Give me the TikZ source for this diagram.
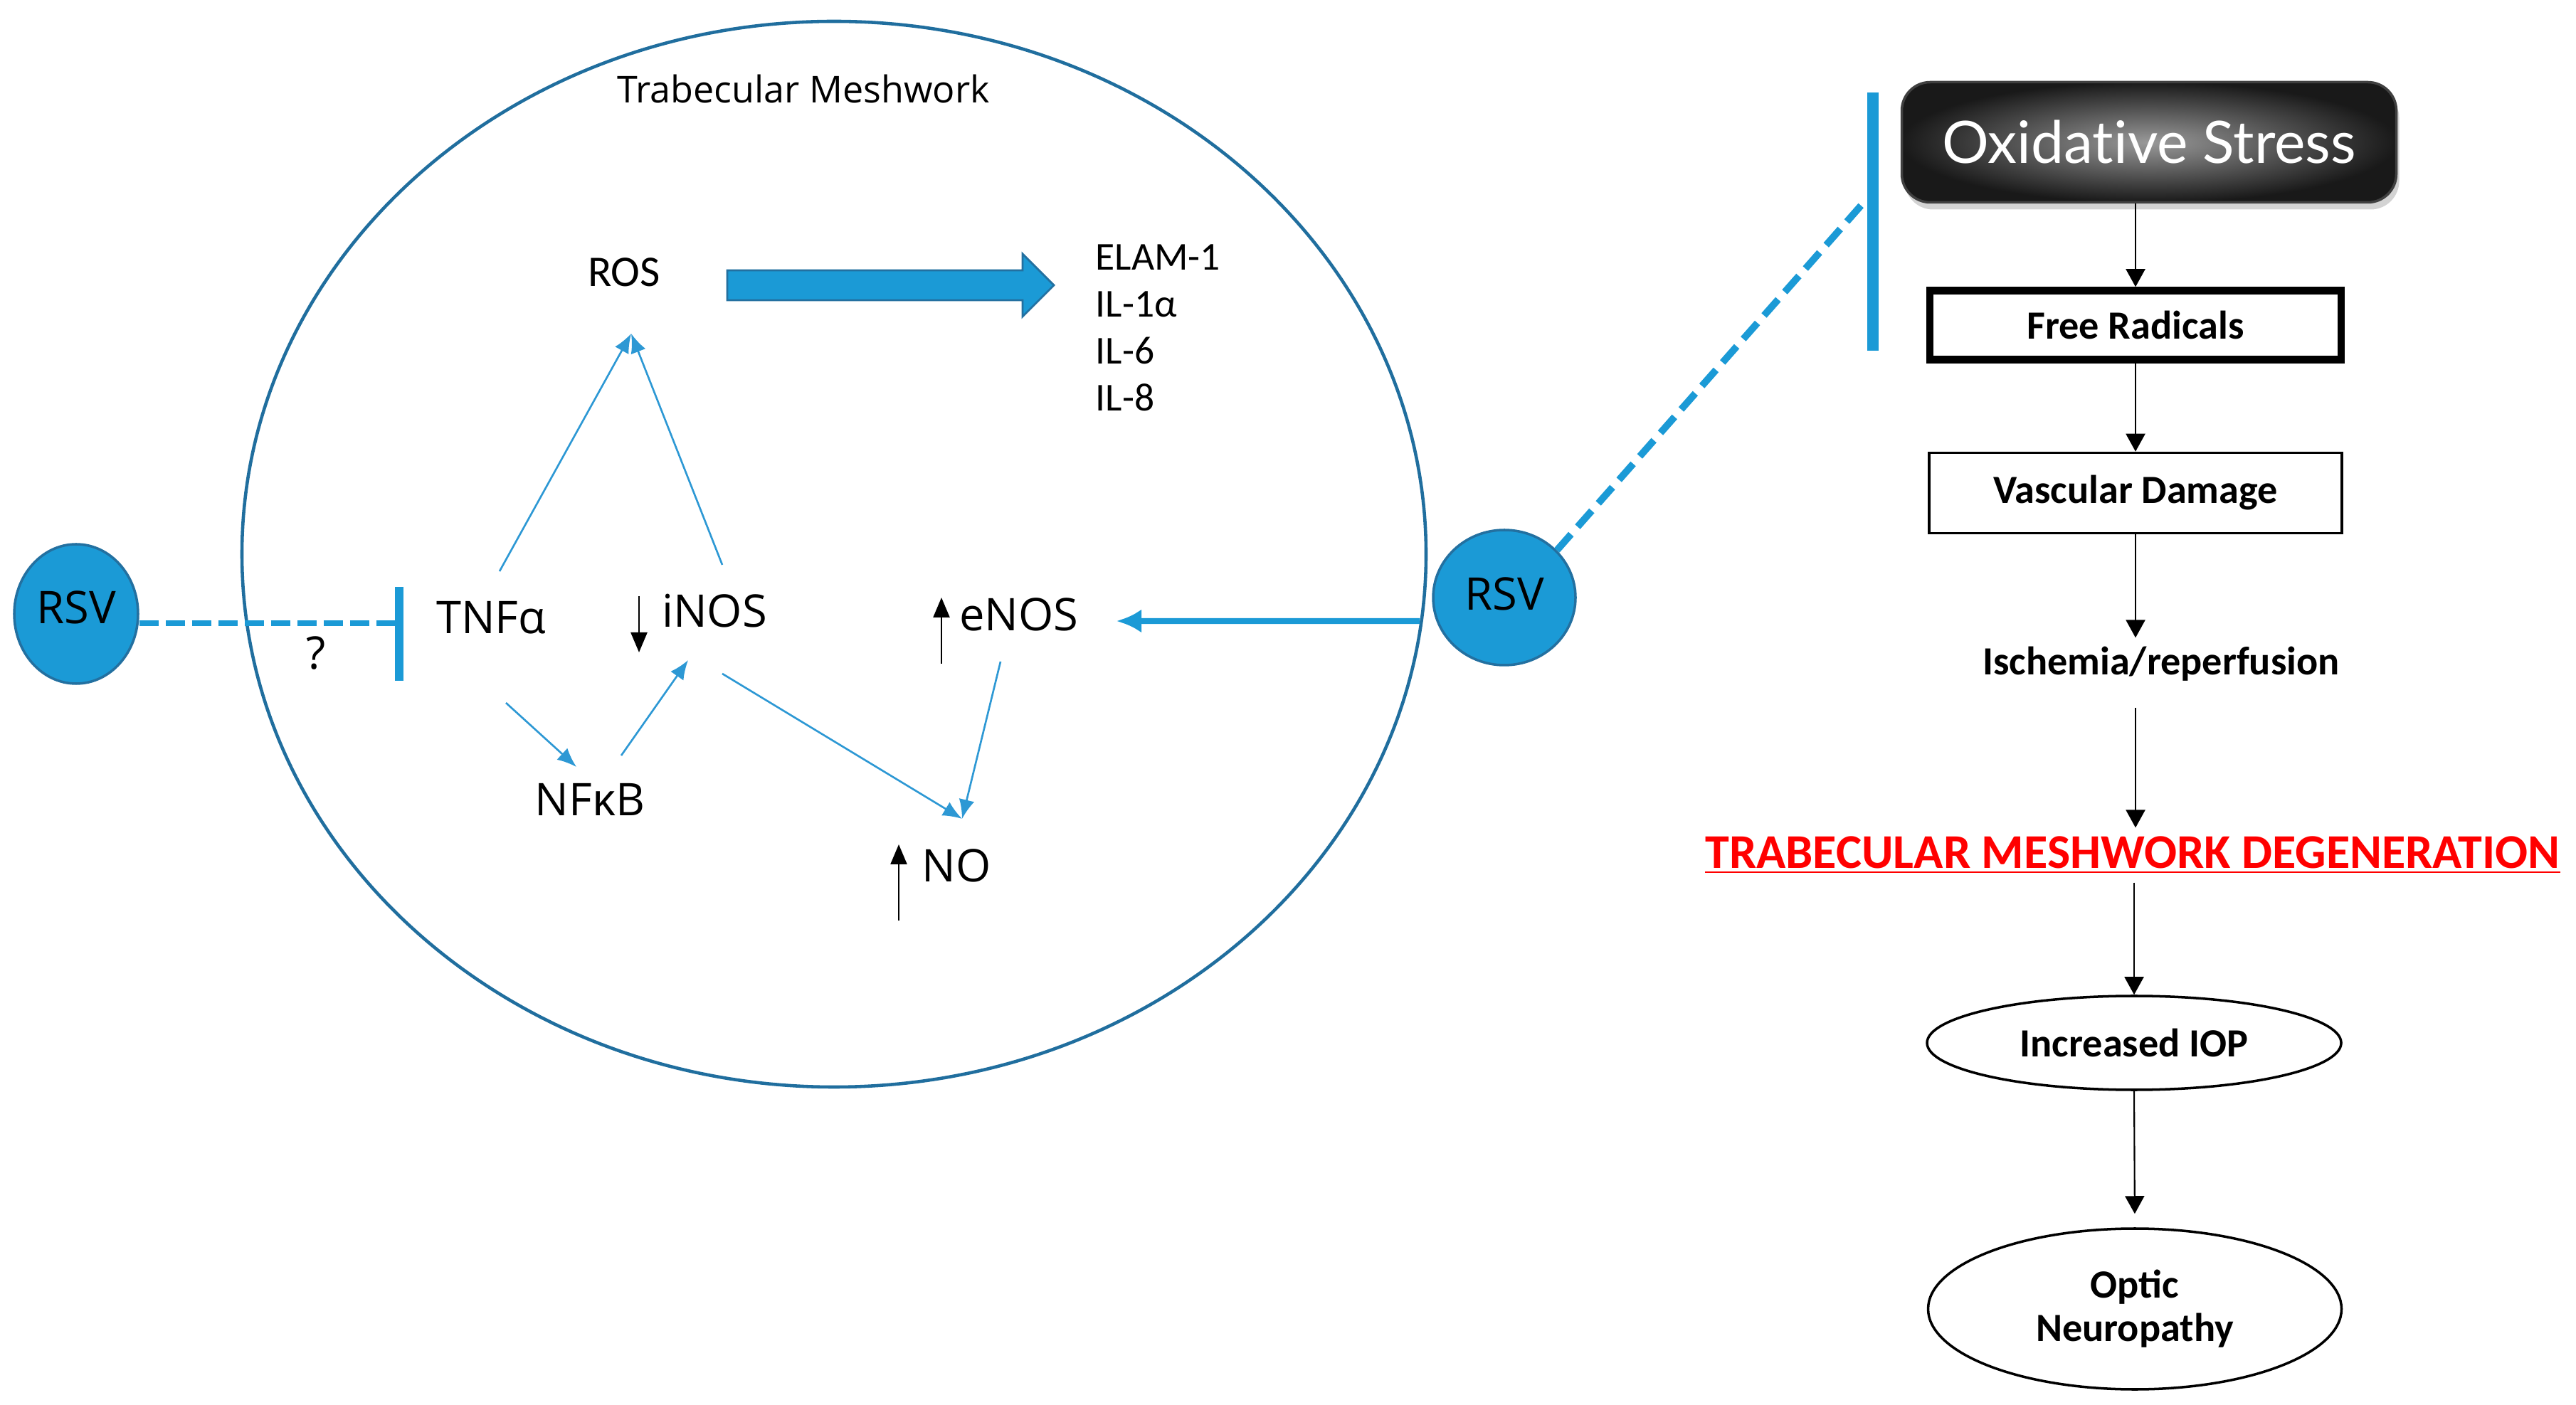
\documentclass[tikz,border=0pt]{standalone}
\usepackage{fontspec}
\setmainfont{Carlito}
\newfontfamily\segoe{Open Sans}
\newfontfamily\gill[Ligatures=NoCommon]{Lato}
\usetikzlibrary{arrows.meta,shapes.geometric,shadows,calc}
\definecolor{rsvblue}{RGB}{27,154,214}
\definecolor{rsvedge}{RGB}{35,112,160}
\definecolor{meshblue}{RGB}{32,110,158}
\definecolor{linkblue}{RGB}{45,152,212}
\tikzset{
  rsv/.style={ellipse, draw=rsvedge, fill=rsvblue, line width=1pt, inner sep=0pt, font=\segoe\fontsize{18}{20}\selectfont},
  mol/.style={font=\segoe\fontsize{18}{20}\selectfont, inner sep=1pt},
  cyt/.style={font=\fontsize{15.8}{18.8}\selectfont, inner sep=0pt},
  link/.style={linkblue, line width=0.75pt, -{Latex[length=0.27cm,width=0.22cm]}},
  updown/.style={line width=0.7pt, -{Triangle[length=0.28cm,width=0.23cm]}},
  flow/.style={line width=0.6pt, -{Triangle[length=0.25cm,width=0.27cm]}},
  fbox/.style={draw, rectangle, inner sep=0pt, font=\bfseries\fontsize{16}{18}\selectfont},
  oval/.style={draw, ellipse, line width=1pt, inner sep=0pt, align=center, font=\bfseries\fontsize{16}{17.4}\selectfont},
}
\begin{document}
\begin{tikzpicture}
\useasboundingbox (0,0) rectangle (36.2,19.74);
% Trabecular meshwork
\draw[meshblue, line width=1.3pt] (11.72,11.95) ellipse [x radius=8.32, y radius=7.49];
\node[font=\segoe\fontsize{14.8}{16}\selectfont] (tmtitle) at (11.29,18.49) {Trabecular Meshwork};
% Molecules
\node[font=\fontsize{17.5}{19}\selectfont] (ros) at (8.77,15.91) {ROS};
\node[cyt, align=left, anchor=west] (cyto) at (15.39,15.13) {ELAM-1\\IL-1α\\IL-6\\IL-8};
\node[mol] (tnf) at (6.90,11.06) {TNFα};
\node[mol] (inos) at (10.04,11.15) {iNOS};
\node[mol] (enos) at (14.32,11.10) {eNOS};
\node[mol] (nfkb) at (8.29,8.50) {NFκB};
\node[mol] (no) at (13.44,7.57) {NO};
\node[mol] (qmark) at (4.44,10.56) {?};
\coordinate (rosIn) at (8.87,15.05);
\coordinate (noIn) at (13.52,8.23);
% Block arrow
\filldraw[fill=rsvblue, draw=rsvedge, line width=0.8pt] (10.22,15.94) -- (14.37,15.94) -- (14.37,16.17)
  -- (14.81,15.73) -- (14.37,15.29) -- (14.37,15.52) -- (10.22,15.52) -- cycle;
% Links
\draw[link] ($(tnf)+(0.12,0.65)$) -- (rosIn);
\draw[link] ($(inos)+(0.11,0.65)$) -- (rosIn);
\draw[link] ($(tnf)+(0.21,-1.20)$) -- ($(nfkb)+(-0.19,0.46)$);
\draw[link] ($(nfkb)+(0.44,0.62)$) -- ($(inos)+(-0.37,-0.69)$);
\draw[link] ($(inos)+(0.11,-0.88)$) -- (noIn);
\draw[link] ($(enos)+(-0.26,-0.66)$) -- (noIn);
% Up and down
\draw[updown] ($(inos)+(-1.06,0.21)$) -- ($(inos)+(-1.06,-0.58)$);
\draw[updown] ($(enos)+(-1.09,-0.69)$) -- ($(enos)+(-1.09,0.24)$);
\draw[updown] ($(no)+(-0.81,-0.77)$) -- ($(no)+(-0.81,0.30)$);
% RSV
\node[rsv, minimum width=1.74cm, minimum height=1.96cm] (rsvL) at (1.07,11.11) {\raisebox{0.18cm}{RSV}};
\node[rsv, minimum width=2.0cm, minimum height=1.9cm] (rsvR) at (21.14,11.34) {\raisebox{0.1cm}{RSV}};
\coordinate (barL) at (5.61,10.98);
\coordinate (barRmid) at (26.24,16.95);
\draw[rsvblue, line width=2pt, dash pattern=on 0.27cm off 0.1cm] (rsvL.east |- barL) -- (barL);
\draw[rsvblue, line width=3.4pt] (5.61,11.49) -- (5.61,10.17);
\draw[rsvblue, line width=2.8pt, dash pattern=on 0.3cm off 0.14cm] (rsvR.42) -- (barRmid);
\draw[rsvblue, line width=4.8pt] (26.32,18.44) -- (26.32,14.81);
\draw[rsvblue, line width=2.3pt, -{Latex[length=0.35cm,width=0.33cm]}] ($(rsvR.west)+(-0.17,-0.33)$) -- ($(enos)+(1.37,-0.09)$);
% Flow chart
\node[rounded corners=0.4cm, minimum width=6.95cm, minimum height=1.69cm, draw=black!75, line width=1pt,
  inner color=black!40, outer color=black!90, drop shadow={opacity=0.35, shadow xshift=0.04cm, shadow yshift=-0.1cm},
  text=white, font=\gill\fontsize{23.4}{26}\selectfont] (oxi) at (30.20,17.74) {Oxidative Stress};
\node[fbox, line width=3pt, minimum width=5.78cm, minimum height=0.97cm] (free) at (30.01,15.17) {Free Radicals};
\node[fbox, line width=1pt, minimum width=5.80cm, minimum height=1.13cm] (vasc) at (30.01,12.81) {Vascular Damage};
\node[font=\bfseries\fontsize{16}{18}\selectfont] (isch) at (30.37,10.41) {Ischemia/reperfusion};
\node[text=red, font=\bfseries\fontsize{19.4}{21}\selectfont] (tmd) at (29.97,7.72) {\underline{TRABECULAR MESHWORK DEGENERATION}};
\node[oval, minimum width=5.82cm, minimum height=1.32cm] (iop) at (29.99,5.08) {Increased IOP};
\node[oval, minimum width=5.81cm, minimum height=2.26cm] (optic) at (30.00,1.34) {Optic\\Neuropathy};
\draw[flow] (oxi.south -| free.north) -- (free.north);
\draw[flow] (free.south) -- (vasc.north);
\draw[flow] (vasc.south) -- (vasc.south |- isch.north);
\draw[flow, shorten <=0.25cm] (isch.south -| vasc.south) -- (tmd.north -| vasc.south);
\draw[flow] (tmd.south -| iop.north) -- (iop.north);
\draw[flow, shorten >=0.19cm] (iop.south) -- (optic.north);
\end{tikzpicture}
\end{document}
